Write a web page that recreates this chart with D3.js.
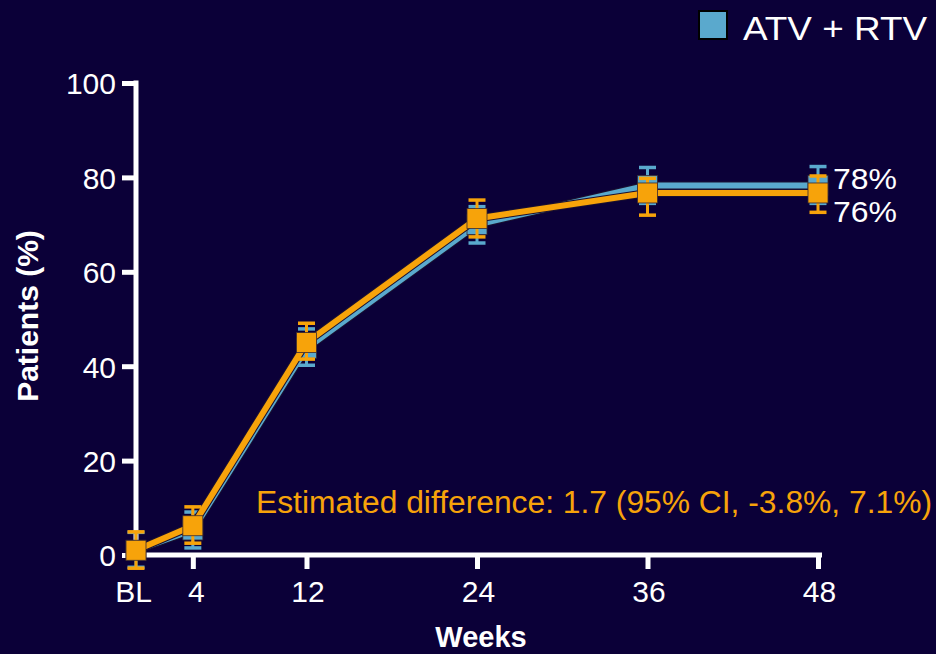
<!DOCTYPE html>
<html><head><meta charset="utf-8">
<script src="https://cdn.jsdelivr.net/npm/d3@7"></script>
<style>
html,body{margin:0;padding:0;background:#0b0038;}
svg{display:block;font-family:"Liberation Sans",Arial,sans-serif;}
</style></head>
<body>
<svg id="chart" width="936" height="654"></svg>
<script>
const weeks = [0, 4, 12, 24, 36, 48];
const weekLabels = ["BL", "4", "12", "24", "36", "48"];
const yTicks = [0, 20, 40, 60, 80, 100];
const blueValues = [1.0, 5.3, 43.8, 70.0, 78.3, 78.3];
const blueLow = [-2.6, 1.5, 40.2, 66.1, 74.5, 74.5];
const blueHigh = [4.8, 9.1, 47.9, 73.8, 82.1, 82.3];
const orangeValues = [1.0, 6.2, 45.0, 71.3, 76.7, 76.7];
const orangeLow = [-2.8, 2.5, 41.5, 67.4, 72.0, 72.6];
const orangeHigh = [4.9, 10.2, 49.1, 75.2, 79.8, 80.3];
const endLabels = ["78%", "76%"];
const legendLabel = "ATV + RTV";
const annotation = "Estimated difference: 1.7 (95% CI, -3.8%, 7.1%)";

const svg = d3.select("#chart");
const bg = "#0b0038", blue = "#5aa9cd", orange = "#f7a30a", white = "#ffffff";
const FONT = "Liberation Sans, Arial, sans-serif";
svg.append("rect").attr("width", 936).attr("height", 654).attr("fill", bg);

const x = d3.scaleLinear().domain([0, 48]).range([136, 818]);
const y = d3.scaleLinear().domain([0, 100]).range([555, 83]);

// axes
const yAxis = svg.append("g").attr("transform", "translate(136,0)")
  .call(d3.axisLeft(y).tickValues(yTicks).tickSize(14).tickPadding(6).tickSizeOuter(0));
yAxis.select(".domain").attr("stroke", white).attr("stroke-width", 5)
  .attr("d", `M0,${y(100)-2.5}V${y(0)+2.5}`);
yAxis.selectAll(".tick line").attr("stroke", white).attr("stroke-width", 5);
yAxis.selectAll(".tick text").attr("fill", white).attr("font-size", 30)
  .attr("font-family", FONT).attr("dy", "0.36em");

const xAxis = svg.append("g").attr("transform", "translate(0,555)")
  .call(d3.axisBottom(x).tickValues(weeks).tickFormat((d, i) => weekLabels[i]).tickSize(14).tickPadding(14).tickSizeOuter(0));
xAxis.select(".domain").attr("stroke", white).attr("stroke-width", 5).attr("d", `M134,0H822`);
xAxis.selectAll(".tick line").attr("stroke", white).attr("stroke-width", 5)
  .attr("opacity", (d) => d === 0 ? 0 : 1);
xAxis.selectAll(".tick text").attr("fill", white).attr("font-size", 30)
  .attr("font-family", FONT).attr("dy", "0.62em")
  .attr("dx", (d) => d === 0 ? -3 : (d === 4 ? 3 : 1));

// axis titles
svg.append("text").attr("transform", "translate(38,316) rotate(-90)")
  .attr("text-anchor", "middle").attr("fill", white).attr("font-size", 30).attr("font-weight", "bold")
  .text("Patients (%)");
svg.append("text").attr("x", 481).attr("y", 647).attr("text-anchor", "middle")
  .attr("fill", white).attr("font-size", 29).attr("font-weight", "bold").text("Weeks");

function drawSeries(vals, lo, hi, color) {
  const g = svg.append("g");
  const line = d3.line().x((d, i) => x(weeks[i])).y(d => y(d));
  g.append("path").datum(vals).attr("d", line).attr("fill", "none")
    .attr("stroke", "#1a1030").attr("stroke-width", 8).attr("stroke-linejoin", "round");
  g.append("path").datum(vals).attr("d", line).attr("fill", "none")
    .attr("stroke", color).attr("stroke-width", 6).attr("stroke-linejoin", "round");
  weeks.forEach((w, i) => {
    const cx = x(w);
    g.append("line").attr("x1", cx).attr("x2", cx).attr("y1", y(lo[i])).attr("y2", y(hi[i]))
      .attr("stroke", color).attr("stroke-width", 3);
    [lo[i], hi[i]].forEach(v => {
      g.append("line").attr("x1", cx - 8.5).attr("x2", cx + 8.5).attr("y1", y(v)).attr("y2", y(v))
        .attr("stroke", color).attr("stroke-width", 3.5);
    });
    g.append("rect").attr("x", cx - 10).attr("y", y(vals[i]) - 10).attr("width", 20).attr("height", 20)
      .attr("fill", color).attr("stroke", "#3a2a30").attr("stroke-width", 0.8);
  });
}
drawSeries(blueValues, blueLow, blueHigh, blue);
drawSeries(orangeValues, orangeLow, orangeHigh, orange);

// end labels
svg.append("text").attr("x", 833).attr("y", 189).attr("fill", white).attr("font-size", 30)
  .attr("textLength", 64).attr("lengthAdjust", "spacingAndGlyphs").text(endLabels[0]);
svg.append("text").attr("x", 833).attr("y", 222).attr("fill", white).attr("font-size", 30)
  .attr("textLength", 64).attr("lengthAdjust", "spacingAndGlyphs").text(endLabels[1]);

// annotation
svg.append("text").attr("x", 256).attr("y", 513).attr("fill", orange).attr("font-size", 31)
  .attr("textLength", 676).attr("lengthAdjust", "spacingAndGlyphs").text(annotation);

// legend
svg.append("rect").attr("x", 699).attr("y", 11).attr("width", 28).attr("height", 28)
  .attr("fill", blue).attr("stroke", "#000").attr("stroke-width", 2);
svg.append("text").attr("x", 743).attr("y", 40).attr("fill", white).attr("font-size", 34)
  .attr("textLength", 184).attr("lengthAdjust", "spacingAndGlyphs").text(legendLabel);
</script>
</body></html>
